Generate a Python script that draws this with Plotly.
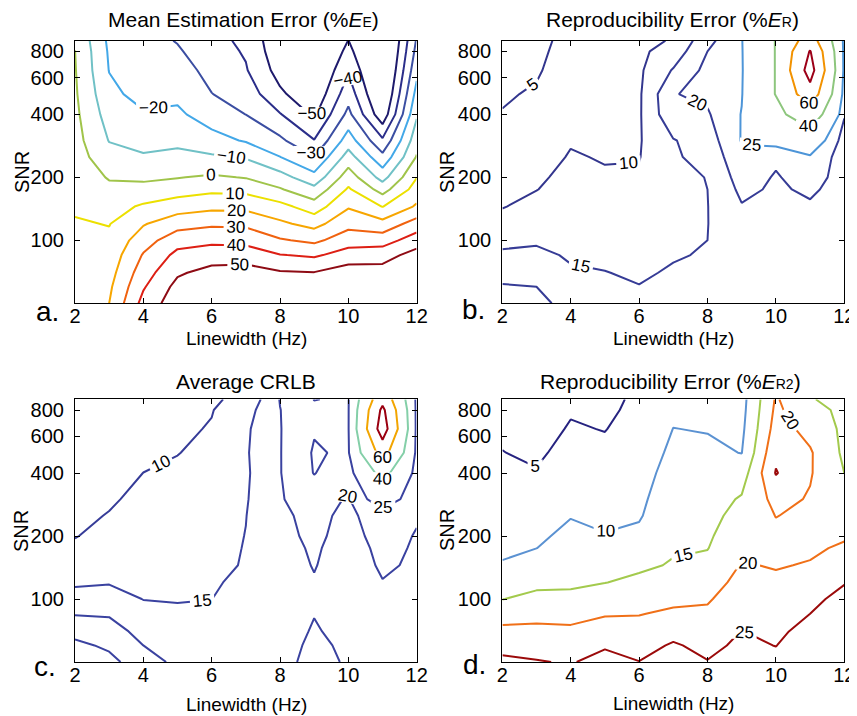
import numpy as np
import plotly.graph_objects as go

# ---------------- data ----------------
linewidth = [2, 3, 4, 5, 6, 7, 8, 9, 10, 11, 12]
snr = [50, 60, 70, 85, 100, 120, 145, 175, 200, 250, 300, 400, 500, 650, 800, 900]

# each inner list = one linewidth column, values from lowest to highest SNR
mean_err = [
    [17, 16, 15, 14, 13, 11, 8.5, 6.5, 5.5, 4.5, 3.5, 2.2, 1.3, 0.6, 0.1, -1],
    [20, 18.2, 16.2, 13.9, 12, 9.6, 5.9, 2.1, -0.7, -6.3, -10.4, -14.3, -17.4, -20.3, -21.2, -22],
    [43.3, 39, 35.4, 30.8, 25.6, 19.2, 11.4, 3.2, -1.9, -9, -13, -18.9, -23.6, -25, -26, -26.5],
    [56, 53, 48.6, 42.7, 36, 26, 15.3, 5.5, -0.4, -7.5, -12.2, -18.3, -22.1, -25.9, -28.9, -30.5],
    [64, 59, 53.5, 45, 37.8, 28.3, 17.5, 7.8, 1.3, -8.6, -16.5, -24.7, -29.8, -33, -35.5, -37],
    [65, 60, 54.4, 45.1, 37.3, 27.9, 17.5, 7.3, -0.5, -10.9, -20.9, -30.1, -34.3, -39.2, -41, -42],
    [62, 58, 51, 40.4, 31, 21.8, 13.2, 0.9, -6, -19.75, -28, -39.4, -48.1, -54, -57, -58],
    [62, 57, 50.4, 38.5, 27.8, 16.7, 4.8, -7.1, -16.6, -29.8, -39.6, -51.7, -58, -63, -66, -67],
    [63, 59, 55, 44.4, 35.5, 26.9, 19.1, 11.3, 5.3, -5.7, -15.1, -27.3, -34.1, -41, -46.8, -49.8],
    [62, 58, 54, 46, 35.6, 23.4, 9.75, -3.9, -13.6, -27.2, -38.3, -57, -63, -67, -69, -70],
    [68, 62, 57, 53.8, 45.1, 34.3, 21.3, 14.3, 9.7, 0.7, -4, -11.3, -16.6, -22.8, -27, -29],
]

repro_err = [
    [23, 20.4, 18.4, 15.8, 13.8, 11.6, 9.8, 8.9, 8.3, 7.3, 6.5, 5.2, 4.5, 4, 3.6, 3.4],
    [22, 20, 18.2, 16, 14.4, 12.9, 11.3, 9.9, 9.3, 8.4, 7.6, 6.4, 5.5, 4.5, 4, 3.7],
    [17.5, 17, 15.5, 14.5, 13.9, 13.1, 12.4, 11.7, 11.2, 10.3, 9.7, 8.9, 8.2, 7.4, 6.8, 6.5],
    [17, 16, 15.1, 14.2, 13.5, 12.7, 11.8, 11, 10.4, 9.75, 9.4, 8.9, 8.5, 8.1, 7.7, 7.5],
    [16.5, 15.1, 14.5, 13.8, 13.2, 12.5, 11.8, 11.1, 10.6, 9.8, 9.6, 9.4, 9.3, 9.2, 9.1, 9.0],
    [17.5, 16.3, 15.4, 14.7, 14.2, 13.6, 13.2, 13.0, 13.2, 14.5, 14.7, 19, 19.8, 15.4, 12, 10.3],
    [16.5, 16, 15.6, 15.3, 15, 14.9, 14.9, 15, 15.2, 16.3, 17.5, 19.5, 21, 21.5, 20, 18.5],
    [17.5, 17.5, 17.5, 17.8, 18.2, 18.8, 19.7, 21.1, 22.2, 24, 25.3, 25.2, 24.7, 24.5, 24.6, 24.7],
    [17, 17.2, 17.5, 17.8, 18.1, 18.5, 18.9, 19.3, 19.6, 20.8, 27.4, 35.4, 40.5, 40.5, 40.5, 40.5],
    [16, 16.5, 17, 17.5, 18, 18.7, 19.4, 20.8, 22.1, 24.3, 30.6, 51, 72.3, 88, 81, 70],
    [16, 16.5, 17, 17.5, 18, 18.5, 18.8, 18, 18, 17.5, 17.8, 20.4, 22, 23, 23, 23],
]

avg_crlb = [
    [29, 26.2, 23.4, 19.7, 16.9, 14.3, 12.6, 10.8, 9.8, 9.1, 8.5, 7.6, 6.9, 6, 5.4, 5],
    [26.5, 24.1, 22.1, 19.5, 17, 14.7, 13.5, 12.3, 11.5, 10.2, 9.5, 8.6, 7.9, 7.0, 6.4, 6],
    [22, 20, 18.4, 16.4, 14.9, 14.25, 13.6, 12.9, 12.5, 11.7, 11, 10.02, 9.2, 8.3, 7.6, 7.2],
    [19, 18.2, 17.1, 15.7, 14.75, 14.2, 13.6, 13.1, 12.7, 12, 11.5, 10.6, 9.9, 9.2, 8.7, 8.4],
    [18.5, 17.8, 16.8, 15.5, 14.97, 14.5, 14.0, 13.6, 13.2, 12.7, 12.2, 11.5, 10.95, 10.3, 9.8, 9.5],
    [18.5, 18, 17.5, 17, 16.6, 16, 15.3, 15.2, 15.1, 14.9, 14.6, 14.3, 14.5, 14.2, 13, 11],
    [18.5, 18.5, 18.5, 18.5, 18.5, 18.5, 18.7, 18.9, 19.1, 19.4, 19.7, 19.8, 19.8, 19.8, 19.9, 20.2],
    [21.5, 20.8, 20.3, 19.9, 19.5, 19.8, 20.15, 20.4, 20.7, 20.9, 22, 25.2, 25.5, 24.6, 24.3, 25.1],
    [19.5, 19.3, 19, 18.8, 18.6, 18.5, 18.5, 18.6, 18.8, 19.2, 19.6, 21.5, 24.2, 24.5, 24.5, 24.5],
    [18.5, 18.7, 19, 19.3, 19.6, 19.9, 20.4, 20.8, 21.3, 22, 29.4, 45, 68, 90, 84, 74],
    [18, 18.3, 18.6, 18.9, 19.2, 19.4, 19.6, 19.7, 19.8, 20.3, 21, 22, 23, 23, 23, 23],
]

repro_err2 = [
    [26.1, 23.4, 21.2, 17.9, 14.9, 12.6, 10.3, 9.3, 8.8, 7.9, 7.2, 6, 5.1, 4.2, 3.6, 3.3],
    [25.3, 23, 21.2, 18.5, 16.2, 13.9, 12, 9.97, 9.2, 8, 6.9, 5.3, 4.2, 3.2, 2.5, 2.2],
    [24.6, 23, 21, 18.3, 16, 14.3, 13.1, 11.9, 11.1, 9.8, 9, 7.7, 6.6, 5.4, 4.6, 4.2],
    [26.9, 24.4, 22.2, 19.6, 17.4, 14.9, 13.2, 11.4, 10.2, 9.1, 8.3, 7, 6, 4.85, 4, 3.6],
    [25.1, 23.3, 21.8, 19.8, 18.1, 16.1, 14.1, 12.2, 10.9, 9.6, 9.1, 8.3, 7.6, 6.9, 6.3, 6],
    [28, 25.5, 23.5, 20.8, 18.9, 17.2, 15.4, 14.5, 14, 13.3, 12.65, 11.7, 10.9, 10.05, 9.2, 8.8],
    [25.2, 23.7, 22.5, 20.85, 19.5, 17.9, 16.3, 14.85, 14.3, 13.5, 12.8, 11.7, 10.8, 9.8, 9.0, 8.6],
    [28, 26, 25.1, 23.8, 22.7, 21.5, 20.3, 19, 18.2, 16.7, 15.5, 12.6, 9.9, 9.0, 8.5, 8.3],
    [26.5, 24.9, 23.9, 22.7, 21.9, 20.8, 19.7, 19, 19.1, 20.1, 21.5, 25.3, 24, 22, 21, 20.5],
    [29, 28, 26.8, 25, 23.6, 21.9, 20.3, 19.3, 19, 19.1, 19.6, 20.4, 20.5, 18.5, 16.5, 15.6],
    [34, 32, 30.5, 28.4, 26.7, 24.7, 22.6, 20.6, 19.5, 18, 16.8, 15, 14.1, 14, 14, 12],
]

levels_a = [-50, -40, -30, -20, -10, 0, 10, 20, 30, 40, 50]
colors_a = ['#1e1a6c', '#2b2e8a', '#3b4ea2', '#43a8e8', '#70c1c6', '#a0c44a',
            '#ece000', '#f7a600', '#f0620f', '#dd1f14', '#8e0b14']
levels_b = [5, 10, 15, 20, 25, 40, 60, 80]
colors_b = ['#33368e', '#33368e', '#363c96', '#363c96', '#4d95d8', '#8dc67d', '#f29200', '#9c0018']
levels_c = [10, 15, 20, 25, 40, 60, 80]
colors_c = ['#363c98', '#3a42a0', '#3a42a0', '#3a42a0', '#84cfa8', '#f2a500', '#9a0010']
levels_d = [5, 10, 15, 20, 25]
colors_d = ['#262380', '#5b92d2', '#a3ca4d', '#f07018', '#9b0a0a']

titles = ['Mean Estimation Error (%<i>E</i><span style="font-size:14px">E</span>)',
          'Reproducibility Error (%<i>E</i><span style="font-size:14px">R</span>)',
          'Average CRLB',
          'Reproducibility Error (%<i>E</i><span style="font-size:14px">R2</span>)']
letters = ['a.', 'b.', 'c.', 'd.']
x_ticks = [2, 4, 6, 8, 10, 12]
y_ticks = [100, 200, 400, 600, 800]

# ---------------- figure ----------------
# the page body has an 8 px margin, so the figure starts at page pixel (8, 8)
OFF = 8
W, H = 857 - OFF, 716 - OFF
FONT = 'Liberation Sans, Arial, Helvetica, sans-serif'

fig = go.Figure()

panels = [
    (mean_err, levels_a, colors_a, 'x', 'y'),
    (repro_err, levels_b, colors_b, 'x2', 'y2'),
    (avg_crlb, levels_c, colors_c, 'x3', 'y3'),
    (repro_err2, levels_d, colors_d, 'x4', 'y4'),
]

for data, levels, colors, xa, ya in panels:
    z = np.array(data, dtype=float).T  # rows = SNR, cols = linewidth
    for lv, col in zip(levels, colors):
        fig.add_trace(go.Contour(
            x=linewidth, y=snr, z=z,
            autocontour=False,
            contours=dict(start=lv, end=lv, size=1, coloring='lines',
                          showlabels=True,
                          labelfont=dict(size=17, color='black', family=FONT)),
            line=dict(width=2, smoothing=0),
            colorscale=[[0, col], [1, col]],
            showscale=False, hoverinfo='skip',
            xaxis=xa, yaxis=ya,
        ))

def xd(a, b):
    return [(a - OFF) / W, (b - OFF) / W]

def yd(top, bottom):
    return [1 - (bottom - OFF) / H, 1 - (top - OFF) / H]

xdom_l = xd(75, 416.7)
xdom_r = xd(502.3, 844.3)
ydom_t = yd(40.7, 303.3)
ydom_b = yd(399.3, 662.0)

def xaxis(dom, anchor):
    return dict(domain=dom, anchor=anchor, range=[2, 12], tickvals=x_ticks,
                ticks='inside', ticklen=5, tickwidth=1, tickcolor='black',
                showline=True, linecolor='black', linewidth=1.2, mirror='ticks',
                showgrid=False, zeroline=False, ticklabelstandoff=-5, automargin=False,
                tickfont=dict(size=20, color='black', family=FONT))

def yaxis(dom, anchor):
    return dict(domain=dom, anchor=anchor, type='log',
                range=[np.log10(50), np.log10(900)], tickvals=y_ticks,
                ticktext=[str(v) for v in y_ticks],
                ticks='inside', ticklen=5, tickwidth=1, tickcolor='black',
                showline=True, linecolor='black', linewidth=1.2, mirror='ticks',
                showgrid=False, zeroline=False, ticklabelstandoff=6, automargin=False,
                tickfont=dict(size=20, color='black', family=FONT))

fig.update_layout(
    width=W, height=H, autosize=False, margin=dict(l=0, r=0, t=0, b=0, pad=0),
    paper_bgcolor='white', plot_bgcolor='white', showlegend=False,
    font=dict(family=FONT, color='black'),
    xaxis=xaxis(xdom_l, 'y'), yaxis=yaxis(ydom_t, 'x'),
    xaxis2=xaxis(xdom_r, 'y2'), yaxis2=yaxis(ydom_t, 'x2'),
    xaxis3=xaxis(xdom_l, 'y3'), yaxis3=yaxis(ydom_b, 'x3'),
    xaxis4=xaxis(xdom_r, 'y4'), yaxis4=yaxis(ydom_b, 'x4'),
)

def ann(pos, text, size, angle=0):
    x = (pos[0] - OFF) / W
    y = 1 - (pos[1] - OFF) / H
    return dict(x=x, y=y, xref='paper', yref='paper', text=text, textangle=angle,
                xanchor='center', yanchor='middle', showarrow=False,
                font=dict(size=size, color='black', family=FONT))

annotations = []
title_pos = [(244, 20), (672, 20), (246, 381), (670, 381)]
xlabel_pos = [(246, 339), (673, 339), (246, 704), (673, 703)]
ylabel_pos = [(22, 172), (447, 172), (21, 531), (447, 530)]
letter_pos = [(47, 311), (473, 309), (45, 666), (474, 664)]
for i in range(4):
    annotations.append(ann(title_pos[i], titles[i], 21))
    annotations.append(ann(xlabel_pos[i], 'Linewidth (Hz)', 19))
    annotations.append(ann(ylabel_pos[i], 'SNR', 20, -90))
    annotations.append(ann(letter_pos[i], letters[i], 28))
fig.update_layout(annotations=annotations)

fig.write_html('out.html')
